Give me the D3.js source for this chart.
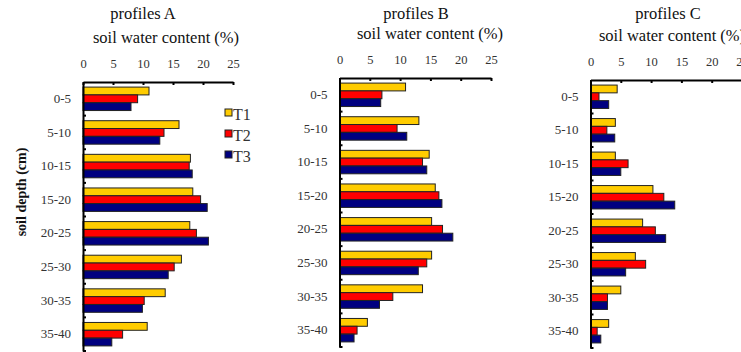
<!DOCTYPE html>
<html>
<head>
<meta charset="utf-8">
<script src="https://cdn.jsdelivr.net/npm/d3@7"></script>
<style>
  body { margin: 0; background: #fff; }
</style>
</head>
<body>
<svg width="741" height="352"></svg>
<script>
// soil depth classes and treatments
const depths = ["0-5", "5-10", "10-15", "15-20", "20-25", "25-30", "30-35", "35-40"];
const treatments = ["T1", "T2", "T3"];
const xTicks = [0, 5, 10, 15, 20, 25];

// soil water content (%)
const profileA_T1 = [11.0, 16.0, 17.9, 18.3, 17.8, 16.4, 13.7, 10.7];
const profileA_T2 = [9.1, 13.5, 17.7, 19.6, 18.9, 15.2, 10.2, 6.6];
const profileA_T3 = [8.0, 12.8, 18.2, 20.7, 20.9, 14.2, 9.9, 4.8];

const profileB_T1 = [10.9, 13.1, 14.8, 15.8, 15.2, 15.2, 13.7, 4.6];
const profileB_T2 = [7.0, 9.5, 13.7, 16.4, 17.0, 14.4, 8.8, 2.9];
const profileB_T3 = [6.8, 11.1, 14.4, 16.9, 18.7, 13.0, 6.6, 2.4];

const profileC_T1 = [4.4, 4.1, 4.1, 10.3, 8.6, 7.4, 5.0, 3.0];
const profileC_T2 = [1.4, 2.7, 6.2, 12.1, 10.7, 9.1, 2.8, 1.1];
const profileC_T3 = [3.0, 4.0, 5.0, 13.9, 12.4, 5.8, 2.8, 1.7];

const colors = ["#ffcc00", "#ff0000", "#000080"];
const serif = "'Liberation Serif', 'Times New Roman', serif";

const svg = d3.select("svg").attr("font-family", serif);

// panel placement
const panels = [
  { name: "profiles A", x0: 83, top: 82, bottom: 351, w: 150, tx: 143, sx: 166,
    series: [profileA_T1, profileA_T2, profileA_T3] },
  { name: "profiles B", x0: 339.5, top: 78, bottom: 347, w: 151.5, tx: 416, sx: 430,
    series: [profileB_T1, profileB_T2, profileB_T3] },
  { name: "profiles C", x0: 590.5, top: 80, bottom: 348, w: 151.5, tx: 668, sx: 672,
    series: [profileC_T1, profileC_T2, profileC_T3] }
];

const color = d3.scaleOrdinal().domain(treatments).range(colors);

panels.forEach(function(p) {
  const g = svg.append("g").attr("transform", "translate(" + p.x0 + "," + p.top + ")");
  const h = p.bottom - p.top;

  const x = d3.scaleLinear().domain([0, 25]).range([0, p.w]);
  const y = d3.scaleBand().domain(depths).range([0, h]).padding(0);
  const yi = d3.scaleBand().domain(treatments).range([0, y.bandwidth()])
    .paddingInner(0).paddingOuter(0.65);

  // bars
  const rows = depths.map(function(d, i) {
    return treatments.map(function(t, j) { return { depth: d, t: t, v: p.series[j][i] }; });
  });
  g.selectAll("g.row")
    .data(rows)
    .enter().append("g")
    .attr("class", "row")
    .attr("transform", function(r) { return "translate(0," + y(r[0].depth) + ")"; })
    .selectAll("rect")
    .data(function(r) { return r; })
    .enter().append("rect")
    .attr("x", 0)
    .attr("y", function(d) { return yi(d.t); })
    .attr("width", function(d) { return x(d.v); })
    .attr("height", yi.bandwidth())
    .attr("fill", function(d) { return color(d.t); })
    .attr("stroke", "#222")
    .attr("stroke-width", 1);

  // top axis
  const xAxis = g.append("g")
    .call(d3.axisTop(x).tickValues(xTicks).tickSizeInner(-3).tickSizeOuter(0).tickPadding(14))
    .attr("font-family", serif)
    .attr("font-size", 12.5);
  xAxis.select(".domain").attr("stroke-width", 2);
  xAxis.selectAll(".tick line").attr("stroke-width", 2);
  xAxis.selectAll("text").attr("fill", "#333");

  // left axis: labels at band centres, ticks at band boundaries
  const yAxis = g.append("g")
    .call(d3.axisLeft(y).tickSize(0).tickPadding(12))
    .attr("font-family", serif)
    .attr("font-size", 13);
  yAxis.select(".domain").attr("stroke-width", 2);
  yAxis.selectAll("text").attr("fill", "#333");

  const bounds = depths.map(function(d) { return y(d); }).concat([y.range()[1]]);
  g.selectAll("line.btick")
    .data(bounds.slice(1))
    .enter().append("line")
    .attr("class", "btick")
    .attr("x1", 0).attr("x2", 3)
    .attr("y1", function(d) { return d; })
    .attr("y2", function(d) { return d; })
    .attr("stroke", "#000")
    .attr("stroke-width", 2);

  // titles
  svg.append("text")
    .attr("x", p.tx).attr("y", 19)
    .attr("text-anchor", "middle")
    .attr("font-size", 16.5)
    .attr("fill", "#111")
    .text(p.name);
  svg.append("text")
    .attr("x", p.sx).attr("y", p.top - 39)
    .attr("text-anchor", "middle")
    .attr("font-size", 16.5)
    .attr("fill", "#111")
    .text("soil water content (%)");
});

// y label
svg.append("text")
  .attr("transform", "translate(26,192) rotate(-90)")
  .attr("text-anchor", "middle")
  .attr("font-size", 14)
  .attr("font-weight", "bold")
  .attr("fill", "#111")
  .text("soil depth (cm)");

// legend
const legend = svg.append("g").attr("transform", "translate(225,109)");
const le = legend.selectAll("g")
  .data(treatments)
  .enter().append("g")
  .attr("transform", function(d, i) { return "translate(0," + (i * 21) + ")"; });
le.append("rect")
  .attr("width", 7).attr("height", 7)
  .attr("fill", function(d) { return color(d); })
  .attr("stroke", "#222")
  .attr("stroke-width", 1);
le.append("text")
  .attr("x", 8).attr("y", 11)
  .attr("font-size", 16)
  .attr("fill", "#333")
  .text(function(d) { return d; });
</script>
</body>
</html>
